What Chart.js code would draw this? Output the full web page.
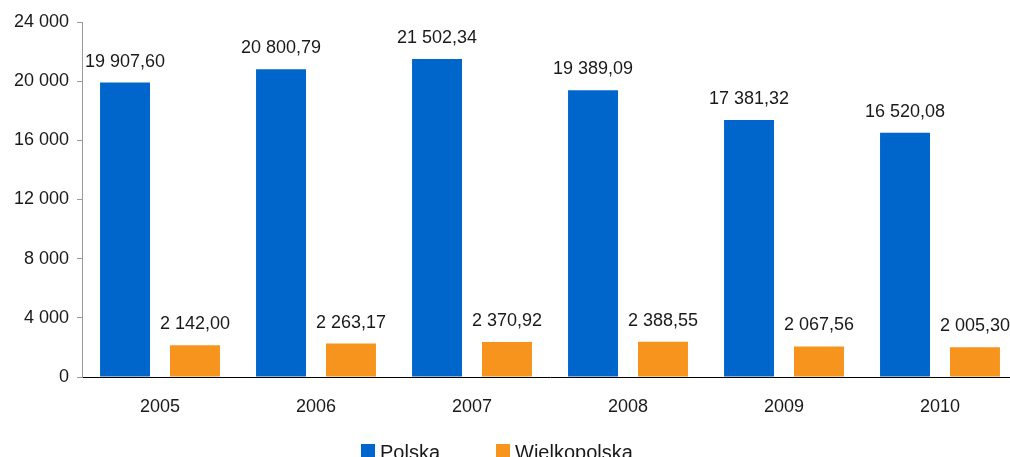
<!DOCTYPE html>
<html>
<head>
<meta charset="utf-8">
<script src="https://cdn.jsdelivr.net/npm/chart.js@4.4.0/dist/chart.umd.min.js"></script>
<style>
html,body{margin:0;padding:0;background:#fff;overflow:hidden;}
#wrap{width:1018px;height:457px;position:relative;}
</style>
</head>
<body>
<div id="wrap"><canvas id="c"></canvas></div>
<script>
const categories = ['2005','2006','2007','2008','2009','2010'];
const polska = [19907.60, 20800.79, 21502.34, 19389.09, 17381.32, 16520.08];
const wielkopolska = [2142.00, 2263.17, 2370.92, 2388.55, 2067.56, 2005.30];
const seriesNames = ['Polska','Wielkopolska'];
const yTicks = [0, 4000, 8000, 12000, 16000, 20000, 24000];

function fmt(v, dec){
  const s = v.toFixed(dec);
  let [i, d] = s.split('.');
  i = i.replace(/\B(?=(\d{3})+(?!\d))/g, ' ');
  return d ? i + ',' + d : i;
}

const FONT = '"Liberation Sans", Arial, sans-serif';

const labelPlugin = {
  id: 'vals',
  afterDatasetsDraw(chart){
    const ctx = chart.ctx;
    ctx.save();
    ctx.font = '18px ' + FONT;
    ctx.fillStyle = '#1a1a1a';
    ctx.textAlign = 'center';
    ctx.textBaseline = 'alphabetic';
    chart.data.datasets.forEach((ds, di) => {
      chart.getDatasetMeta(di).data.forEach((bar, i) => {
        ctx.fillText(fmt(ds.data[i], 2), bar.x, bar.y - 16);
      });
    });
    ctx.restore();
  }
};

const legendPlugin = {
  id: 'legendCustom',
  afterDraw(chart){
    const ctx = chart.ctx;
    ctx.save();
    ctx.font = '20px ' + FONT;
    ctx.textBaseline = 'alphabetic';
    ctx.textAlign = 'left';
    const xs = [361, 496];
    chart.data.datasets.forEach((ds, di) => {
      ctx.fillStyle = ds.backgroundColor;
      ctx.fillRect(xs[di], 444, 14, 14);
      ctx.fillStyle = '#1a1a1a';
      ctx.fillText(ds.label, xs[di] + 19, 459);
    });
    ctx.restore();
  }
};

new Chart(document.getElementById('c'), {
  type: 'bar',
  data: {
    labels: categories,
    datasets: [
      {label: seriesNames[0], data: polska, backgroundColor: '#0066CC', categoryPercentage: 0.897, barPercentage: 0.714},
      {label: seriesNames[1], data: wielkopolska, backgroundColor: '#F7941D', categoryPercentage: 0.897, barPercentage: 0.714}
    ]
  },
  options: {
    responsive: true,
    maintainAspectRatio: false,
    animation: false,
    layout: {padding: {top: 22, right: 0, bottom: 0, left: 0}},
    plugins: {legend: {display: false}, tooltip: {enabled: false}},
    scales: {
      x: {
        grid: {display: false},
        border: {display: true, color: '#000', width: 1},
        ticks: {color: '#1a1a1a', font: {family: FONT, size: 18}, padding: 11, maxRotation: 0},
        afterFit(s){ s.height = 80; }
      },
      y: {
        min: 0, max: 24000,
        afterBuildTicks(s){ s.ticks = yTicks.map(v => ({value: v})); },
        grid: {display: true, drawOnChartArea: false, tickLength: 5, color: '#999'},
        border: {display: true, color: '#999', width: 1},
        ticks: {color: '#1a1a1a', font: {family: FONT, size: 18}, padding: 8, callback: v => fmt(v, 0)},
        afterFit(s){ s.width = 82; }
      }
    }
  },
  plugins: [labelPlugin, legendPlugin]
});
</script>
</body>
</html>
